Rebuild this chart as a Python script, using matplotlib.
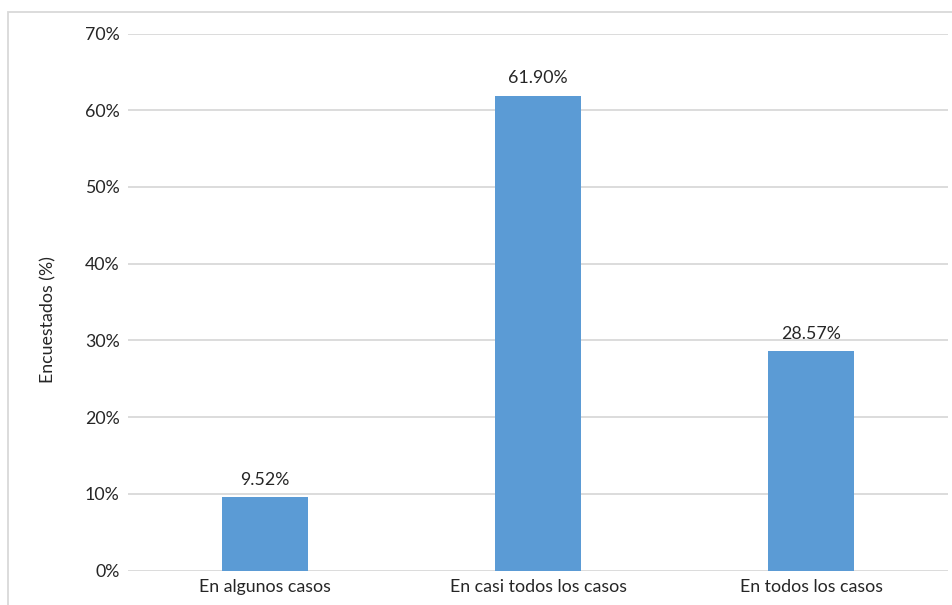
import matplotlib.pyplot as plt
from matplotlib.patches import Rectangle
from matplotlib.ticker import FuncFormatter

# Datos del gráfico
categorias = ['En algunos casos', 'En casi todos los casos', 'En todos los casos']
porcentajes = [9.52, 61.90, 28.57]
etiquetas = ['9.52%', '61.90%', '28.57%']

plt.rcParams['font.family'] = ['Lato', 'DejaVu Sans']

fig = plt.figure(figsize=(9.52, 6.05), dpi=100)
ax = fig.add_axes([128 / 952, 1 - 570.5 / 605, (948 - 128) / 952, (570.5 - 33.5) / 605])

# Marco del gráfico (recortado a la derecha y abajo)
fig.patches.append(Rectangle((7.5 / 952, -0.1), 1.2, 1 - 11.5 / 605 + 0.1,
                             transform=fig.transFigure, fill=False,
                             edgecolor='#D9D9D9', linewidth=1.3))

x = range(len(categorias))
barras = ax.bar(x, porcentajes, width=0.315, color='#5B9BD5', zorder=3)

for b, txt in zip(barras, etiquetas):
    ax.annotate(txt, (b.get_x() + b.get_width() / 2, b.get_height()),
                xytext=(0, 7), textcoords='offset points',
                ha='center', va='bottom', fontsize=12.8, color='#262626')

ax.set_xlim(-0.5, 2.5)
ax.set_ylim(0, 70)
ax.set_yticks(range(0, 71, 10))
ax.yaxis.set_major_formatter(FuncFormatter(lambda v, p: f'{int(v)}%'))
ax.set_xticks(list(x))
ax.set_xticklabels(categorias)
ax.tick_params(length=0, labelsize=12.8, labelcolor='#262626')
ax.tick_params(axis='y', pad=6)
ax.tick_params(axis='x', pad=6)
ax.grid(axis='y', color='#D9D9D9', linewidth=1.3, zorder=0)
for s in ax.spines.values():
    s.set_visible(False)

fig.text(48 / 952, 1 - 320 / 605, 'Encuestados (%)', rotation=90,
         ha='center', va='center', fontsize=12.8, color='#262626')

fig.savefig('out.png', dpi=100)
